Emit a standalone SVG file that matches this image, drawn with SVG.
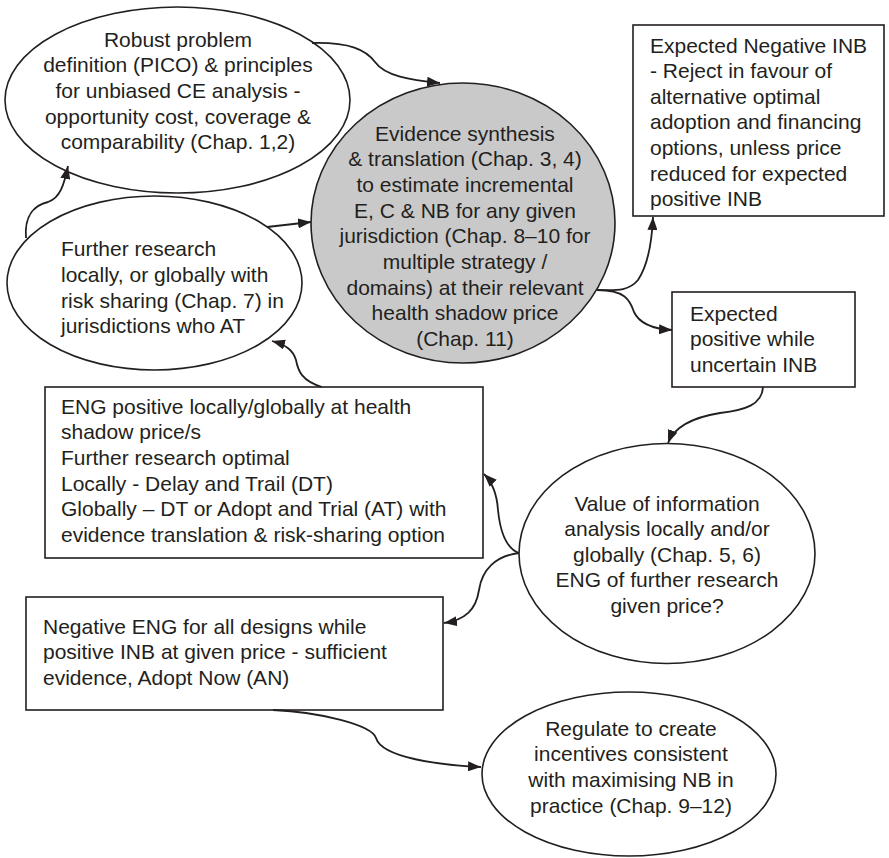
<svg xmlns="http://www.w3.org/2000/svg" width="889" height="858" viewBox="0 0 889 858">
<defs>
<style>
.shape{fill:#fff;stroke:#231f20;stroke-width:1.6}
.grey{fill:#c9c9c9;stroke:#231f20;stroke-width:1.6}
text{font-family:"Liberation Sans",Arial,sans-serif;font-size:21px;fill:#231f20}
.c{text-anchor:middle}
.conn path{fill:none;stroke:#231f20;stroke-width:1.8;marker-end:url(#arr)}
</style>
<marker id="arr" markerUnits="userSpaceOnUse" markerWidth="14" markerHeight="10" refX="13" refY="5" orient="auto">
<path d="M0,0 L13,5 L0,10 z" fill="#231f20"/>
</marker>
</defs>
<rect width="889" height="858" fill="#fff"/>

<g id="n-robust">
<ellipse class="shape" cx="177.5" cy="100" rx="172.5" ry="93"/>
<text class="c" x="178" y="46.5">Robust problem</text>
<text class="c" x="178" y="72.2">definition (PICO) &amp; principles</text>
<text class="c" x="178" y="97.9">for unbiased CE analysis -</text>
<text class="c" x="178" y="123.6">opportunity cost, coverage &amp;</text>
<text class="c" x="178" y="149.3">comparability (Chap. 1,2)</text>
</g>

<g id="n-further">
<ellipse class="shape" cx="154.5" cy="283" rx="147.5" ry="87"/>
<text x="61" y="255.5">Further research</text>
<text x="61" y="281.5">locally, or globally with</text>
<text x="61" y="307.5">risk sharing (Chap. 7) in</text>
<text x="61" y="332.5">jurisdictions who AT</text>
</g>

<g id="n-evidence">
<ellipse class="grey" cx="463" cy="223" rx="152" ry="140"/>
<text class="c" x="465" y="140.5">Evidence synthesis</text>
<text class="c" x="465" y="166.2">&amp; translation (Chap. 3, 4)</text>
<text class="c" x="465" y="191.9">to estimate incremental</text>
<text class="c" x="465" y="217.6">E, C &amp; NB for any given</text>
<text class="c" x="465" y="243.3">jurisdiction (Chap. 8–10 for</text>
<text class="c" x="465" y="269">multiple strategy /</text>
<text class="c" x="465" y="294.7">domains) at their relevant</text>
<text class="c" x="465" y="320.4">health shadow price</text>
<text class="c" x="465" y="346.1">(Chap. 11)</text>
</g>

<g id="n-negINB">
<rect class="shape" x="633" y="25" width="251" height="191"/>
<text x="650" y="52.5">Expected Negative INB</text>
<text x="650" y="78.1">- Reject in favour of</text>
<text x="650" y="103.7">alternative optimal</text>
<text x="650" y="129.3">adoption and financing</text>
<text x="650" y="154.9">options, unless price</text>
<text x="650" y="180.5">reduced for expected</text>
<text x="650" y="206.1">positive INB</text>
</g>

<g id="n-posINB">
<rect class="shape" x="672" y="292" width="183" height="95"/>
<text x="690" y="320.5">Expected</text>
<text x="690" y="346">positive while</text>
<text x="690" y="372">uncertain INB</text>
</g>

<g id="n-engpos">
<rect class="shape" x="45" y="387" width="438" height="171"/>
<text x="61" y="413.5">ENG positive locally/globally at health</text>
<text x="61" y="439">shadow price/s</text>
<text x="61" y="465">Further research optimal</text>
<text x="61" y="490.5">Locally - Delay and Trail (DT)</text>
<text x="61" y="516">Globally – DT or Adopt and Trial (AT) with</text>
<text x="61" y="541.5">evidence translation &amp; risk-sharing option</text>
</g>

<g id="n-voi">
<ellipse class="shape" cx="667" cy="553.5" rx="148" ry="110"/>
<text class="c" x="667" y="510.5">Value of information</text>
<text class="c" x="667" y="536">analysis locally and/or</text>
<text class="c" x="667" y="561.5">globally (Chap. 5, 6)</text>
<text class="c" x="667" y="587">ENG of further research</text>
<text class="c" x="667" y="613">given price?</text>
</g>

<g id="n-engneg">
<rect class="shape" x="26" y="597" width="417" height="113"/>
<text x="43" y="633.5">Negative ENG for all designs while</text>
<text x="43" y="659">positive INB at given price - sufficient</text>
<text x="43" y="684.5">evidence, Adopt Now (AN)</text>
</g>

<g id="n-regulate">
<ellipse class="shape" cx="629" cy="774" rx="147" ry="82"/>
<text class="c" x="631" y="735.5">Regulate to create</text>
<text class="c" x="631" y="761">incentives consistent</text>
<text class="c" x="631" y="787">with maximising NB in</text>
<text class="c" x="631" y="812.5">practice (Chap. 9–12)</text>
</g>

<g id="connectors" class="conn">
<path d="M312,43 C350,42 366,50 375,62 C385,76 410,80 440,83"/>
<path d="M26,238 C24,215 35,205 48,202 C60,198 64,185 68,166"/>
<path d="M267,227 L311,222"/>
<path d="M322,387 C302,381 298,371 296,360 C293,350 286,345 272,341"/>
<path d="M597,290 C615,290 628,292 638,280 C648,265 652,240 653,217"/>
<path d="M597,290 C625,290 630,300 634,312 C640,325 655,329 672,330"/>
<path d="M763,387 C762,405 745,410 720,413 C695,417 675,425 668,443"/>
<path d="M519,553 C505,548 500,530 498,510 C497,495 492,482 484,474"/>
<path d="M519,553 C495,556 482,570 479,590 C476,610 465,620 444,623"/>
<path d="M273,710 C320,712 372,725 376,738 C382,758 440,765 481,767"/>
</g>
</svg>
